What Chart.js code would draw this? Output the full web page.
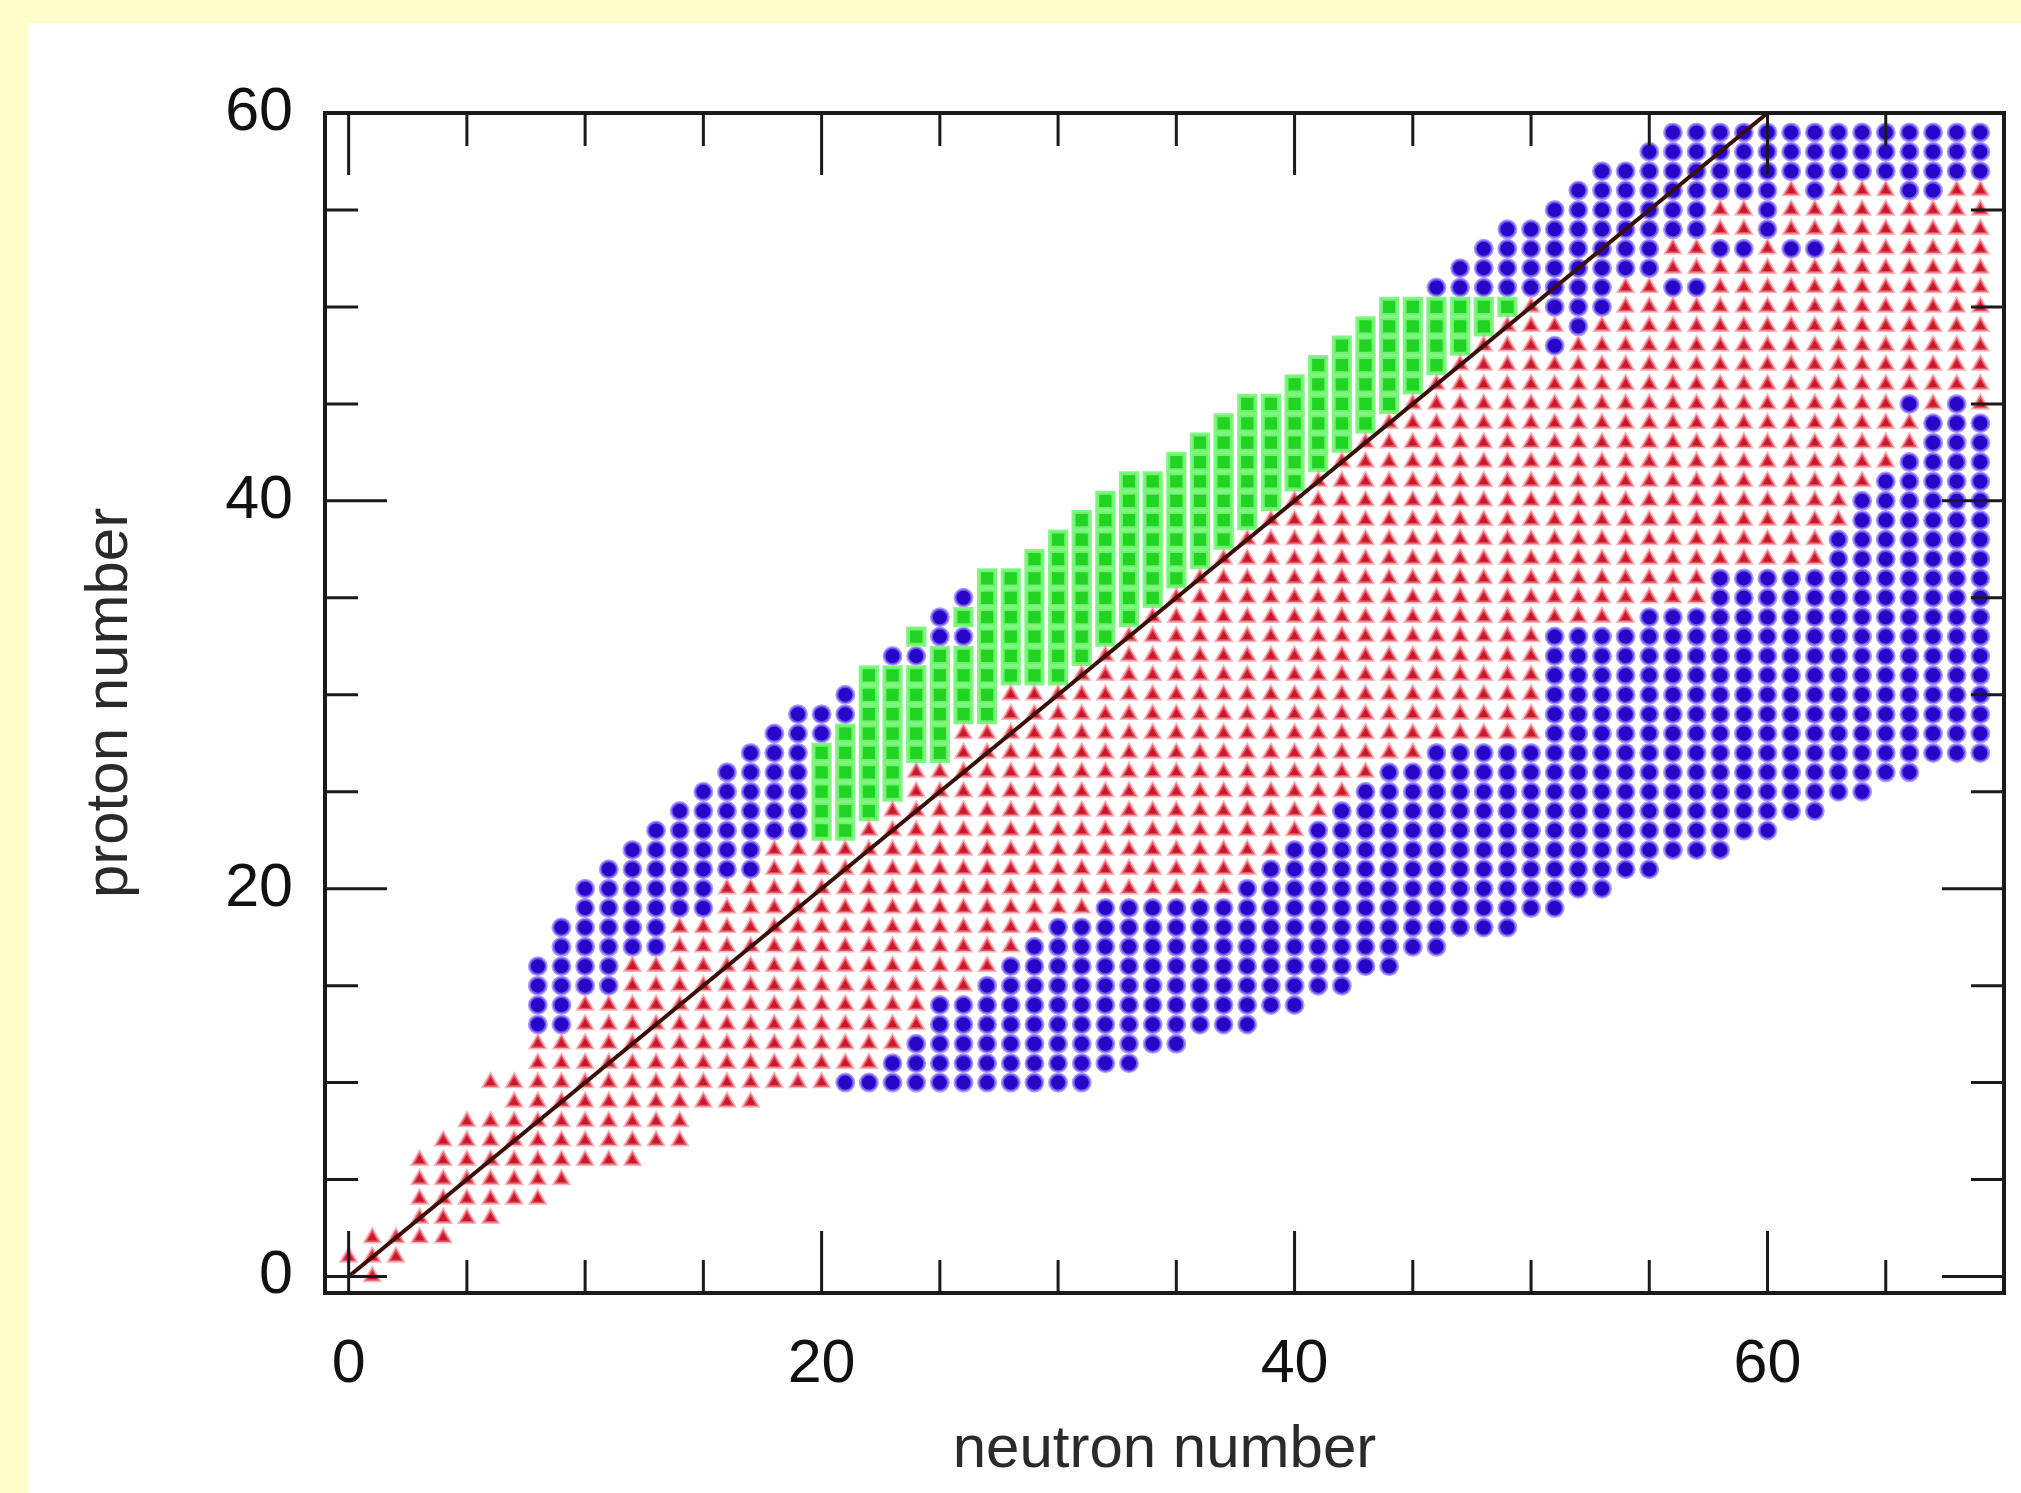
<!DOCTYPE html>
<html>
<head>
<meta charset="utf-8">
<title>proton number vs neutron number</title>
<script src="https://cdn.jsdelivr.net/npm/chart.js@4.4.1/dist/chart.umd.min.js"></script>
<style>
  html, body { margin: 0; padding: 0; background: #ffffcc; }
  canvas { display: block; }
</style>
</head>
<body>
<canvas id="nuclideChart" width="2021" height="1493"></canvas>
<script>
// axis ticks
const xMajorTicks = [0, 20, 40, 60];
const xMinorTicks = [5, 10, 15, 25, 30, 35, 45, 50, 55, 65];
const yMajorTicks = [0, 20, 40, 60];
const yMinorTicks = [5, 10, 15, 25, 30, 35, 45, 50, 55];
const xTickLabels = ['0', '20', '40', '60'];
const yTickLabels = ['0', '20', '40', '60'];

// the N = Z line
const diagN = [0, 60];
const diagZ = [0, 60];

// rows: [proton number, first neutron number, last neutron number]
const redRows = [
  [0, 1, 1], [1, 0, 2], [2, 1, 4], [3, 3, 6], [4, 3, 8], [5, 3, 9], [6, 3, 12],
  [7, 4, 14], [8, 5, 14], [9, 7, 17], [10, 6, 20], [11, 8, 22], [12, 8, 23],
  [13, 10, 24], [14, 10, 24], [15, 12, 26], [16, 12, 27], [17, 14, 28], [18, 14, 29],
  [19, 16, 31], [20, 16, 37], [21, 18, 38], [22, 18, 39], [23, 22, 40], [24, 23, 41],
  [25, 24, 42], [26, 24, 43], [27, 26, 45], [28, 26, 50], [29, 28, 50], [30, 28, 50],
  [31, 31, 50], [32, 32, 50], [33, 33, 50], [34, 34, 54], [35, 35, 57], [36, 36, 57],
  [37, 37, 62], [38, 38, 62], [39, 39, 63], [40, 40, 63], [41, 41, 64], [42, 42, 65],
  [43, 43, 66], [44, 44, 66], [45, 45, 65], [45, 67, 67], [45, 69, 69],
  [46, 46, 69], [47, 47, 69], [48, 48, 50], [48, 52, 69], [49, 49, 51], [49, 53, 69],
  [50, 50, 50], [50, 54, 69], [51, 54, 55], [51, 58, 69], [52, 56, 69],
  [53, 56, 57], [53, 60, 60], [53, 63, 69], [54, 58, 59], [54, 61, 69],
  [55, 58, 59], [55, 61, 69], [56, 61, 61], [56, 63, 65], [56, 68, 69]
];

const greenRows = [
  [23, 20, 21], [24, 20, 22], [25, 20, 23], [26, 20, 23], [27, 20, 25], [28, 21, 25],
  [29, 22, 27], [30, 22, 27], [31, 22, 30], [32, 25, 31], [33, 24, 24], [33, 27, 32],
  [34, 26, 33], [35, 27, 34], [36, 27, 35], [37, 29, 36], [38, 30, 37], [39, 31, 38],
  [40, 32, 39], [41, 33, 40], [42, 35, 41], [43, 36, 42], [44, 37, 43], [45, 38, 44],
  [46, 40, 45], [47, 41, 46], [48, 42, 47], [49, 43, 48], [50, 44, 49]
];

const blueRows = [
  [10, 21, 31], [11, 23, 33], [12, 24, 35],
  [13, 8, 9], [13, 25, 38], [14, 8, 9], [14, 25, 40],
  [15, 8, 11], [15, 27, 42], [16, 8, 11], [16, 28, 44],
  [17, 9, 13], [17, 29, 46], [18, 9, 13], [18, 30, 49],
  [19, 10, 15], [19, 32, 51], [20, 10, 15], [20, 38, 53],
  [21, 11, 17], [21, 39, 55], [22, 12, 17], [22, 40, 58],
  [23, 13, 19], [23, 41, 60], [24, 14, 19], [24, 42, 62],
  [25, 15, 19], [25, 43, 64], [26, 16, 19], [26, 44, 66],
  [27, 17, 19], [27, 46, 69], [28, 18, 20], [28, 51, 69],
  [29, 19, 21], [29, 51, 69], [30, 21, 21], [30, 51, 69], [31, 51, 69],
  [32, 23, 24], [32, 51, 69], [33, 25, 26], [33, 51, 69],
  [34, 25, 25], [34, 55, 69], [35, 26, 26], [35, 58, 69], [36, 58, 69],
  [37, 63, 69], [38, 63, 69], [39, 64, 69], [40, 64, 69], [41, 65, 69],
  [42, 66, 69], [43, 67, 69], [44, 67, 69], [45, 66, 66], [45, 68, 68],
  [48, 51, 51], [49, 52, 52], [50, 51, 53], [51, 46, 53], [51, 56, 57],
  [52, 47, 55], [53, 48, 55], [53, 58, 59], [53, 61, 62],
  [54, 49, 57], [54, 60, 60], [55, 51, 57], [55, 60, 60],
  [56, 52, 60], [56, 62, 62], [56, 66, 67],
  [57, 53, 69], [58, 55, 69], [59, 56, 69]
];

// one point per nucleus in a row
function rowsToPoints(rows) {
  const pts = [];
  rows.forEach(([z, n1, n2]) => {
    for (let n = n1; n <= n2; n++) pts.push({ x: n, y: z });
  });
  return pts;
}

const FONT = "'Liberation Sans', Arial, Helvetica, sans-serif";

// yellow page with the white panel
const panelPlugin = {
  id: 'panel',
  beforeDraw(chart) {
    const { ctx, width, height } = chart;
    ctx.save();
    ctx.fillStyle = '#ffffcc';
    ctx.fillRect(0, 0, width, height);
    ctx.fillStyle = '#ffffff';
    ctx.fillRect(28, 23, width - 28, height - 23);
    ctx.restore();
  }
};

// box round the plot and inward ticks on all four sides
const framePlugin = {
  id: 'frame',
  afterDraw(chart) {
    const { ctx, chartArea: a, scales: { x, y } } = chart;
    const major = 62, minor = 33;
    ctx.save();
    ctx.strokeStyle = '#1a1a1a';
    ctx.lineWidth = 3;
    ctx.beginPath();
    xMajorTicks.concat(xMinorTicks).forEach(v => {
      const px = x.getPixelForValue(v);
      const len = xMajorTicks.includes(v) ? major : minor;
      ctx.moveTo(px, a.bottom); ctx.lineTo(px, a.bottom - len);
      ctx.moveTo(px, a.top); ctx.lineTo(px, a.top + len);
    });
    yMajorTicks.concat(yMinorTicks).forEach(v => {
      if (v >= 60) return;
      const py = y.getPixelForValue(v);
      const len = yMajorTicks.includes(v) ? major : minor;
      ctx.moveTo(a.left, py); ctx.lineTo(a.left + len, py);
      ctx.moveTo(a.right, py); ctx.lineTo(a.right - len, py);
    });
    ctx.stroke();
    ctx.lineWidth = 4;
    ctx.strokeRect(a.left, a.top, a.right - a.left, a.bottom - a.top);
    ctx.restore();
  }
};

const ctx = document.getElementById('nuclideChart').getContext('2d');

new Chart(ctx, {
  type: 'scatter',
  data: {
    datasets: [
      {
        label: 'N = Z',
        type: 'line',
        data: diagN.map((n, i) => ({ x: n, y: diagZ[i] })),
        borderColor: '#3a1008',
        borderWidth: 4,
        pointRadius: 0,
        fill: false,
        order: 0
      },
      {
        label: 'red',
        data: rowsToPoints(redRows),
        pointStyle: 'triangle',
        pointRadius: 8.5,
        backgroundColor: '#c8182a',
        borderColor: 'rgba(248, 130, 142, 0.6)',
        borderWidth: 3,
        order: 1
      },
      {
        label: 'green',
        data: rowsToPoints(greenRows),
        pointStyle: 'rect',
        pointRadius: 11.5,
        backgroundColor: '#22d422',
        borderColor: 'rgba(120, 245, 120, 0.9)',
        borderWidth: 4,
        order: 2
      },
      {
        label: 'blue',
        data: rowsToPoints(blueRows),
        pointStyle: 'circle',
        pointRadius: 8.5,
        backgroundColor: '#2806c8',
        borderColor: 'rgba(140, 115, 255, 0.7)',
        borderWidth: 3,
        order: 3
      }
    ]
  },
  options: {
    responsive: false,
    animation: false,
    events: [],
    layout: { padding: { left: 0, top: 113, right: 17, bottom: 0 } },
    plugins: {
      legend: { display: false },
      tooltip: { enabled: false }
    },
    scales: {
      x: {
        type: 'linear',
        position: 'bottom',
        min: -1,
        max: 70,
        grid: { display: false, drawTicks: false },
        border: { display: false },
        afterBuildTicks: s => { s.ticks = xMajorTicks.map(v => ({ value: v })); },
        afterFit: s => { s.height = 200; },
        ticks: {
          autoSkip: false,
          maxRotation: 0,
          padding: 36,
          color: '#111111',
          font: { family: FONT, size: 61 },
          callback: v => xTickLabels[xMajorTicks.indexOf(v)]
        },
        title: {
          display: true,
          text: 'neutron number',
          color: '#2a2a2a',
          font: { family: FONT, size: 60, lineHeight: 1 },
          padding: { top: 0, bottom: 13 }
        }
      },
      y: {
        type: 'linear',
        position: 'left',
        min: -0.85,
        max: 60,
        grid: { display: false, drawTicks: false },
        border: { display: false },
        afterBuildTicks: s => { s.ticks = yMajorTicks.map(v => ({ value: v })); },
        afterFit: s => { s.width = 325; },
        ticks: {
          autoSkip: false,
          padding: 32,
          color: '#111111',
          font: { family: FONT, size: 61 },
          callback: v => yTickLabels[yMajorTicks.indexOf(v)]
        },
        title: {
          display: true,
          text: 'proton number',
          color: '#2a2a2a',
          font: { family: FONT, size: 60, lineHeight: 1 },
          padding: { top: 80, bottom: 0 }
        }
      }
    }
  },
  plugins: [panelPlugin, framePlugin]
});
</script>
</body>
</html>
